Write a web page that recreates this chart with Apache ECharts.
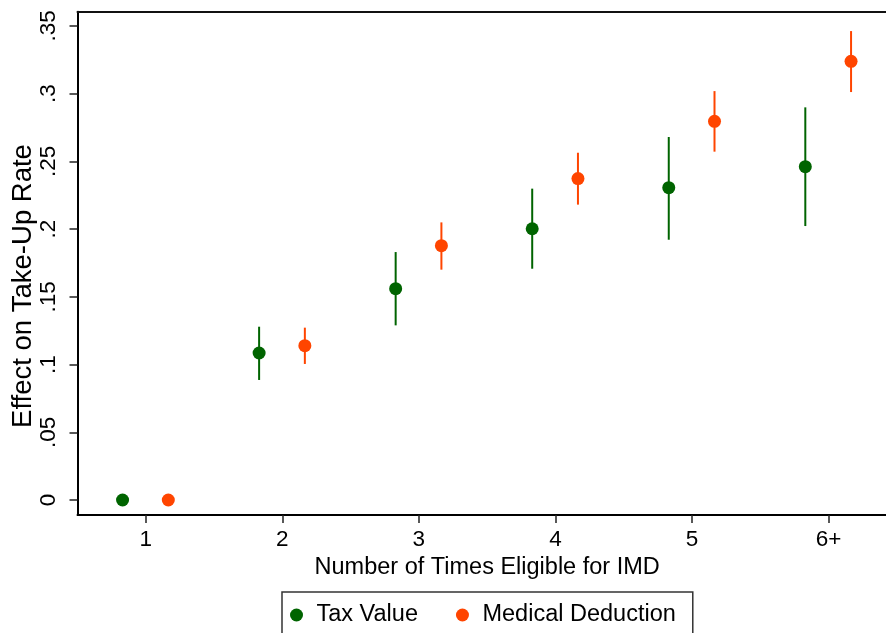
<!DOCTYPE html>
<html><head><meta charset="utf-8">
<script src="https://cdn.jsdelivr.net/npm/echarts@6/dist/echarts.min.js"></script>
<style>html,body{margin:0;padding:0;background:#fff}#c{width:886px;height:633px}</style>
</head><body><div id="c"></div>
<script>
// ---- data ----
const categories = [1, 2, 3, 4, 5, 6];
const tickLabels = ["1", "2", "3", "4", "5", "6+"];
const yTicks = [0, 0.05, 0.1, 0.15, 0.2, 0.25, 0.3, 0.35];
const yTickLabels = ["0", ".05", ".1", ".15", ".2", ".25", ".3", ".35"];
const seriesNames = ["Tax Value", "Medical Deduction"];
const taxValue = [0, 0.1085, 0.1560, 0.2002, 0.2305, 0.2460];
const taxLow   = [null, 0.0886, 0.1289, 0.1707, 0.1921, 0.2022];
const taxHigh  = [null, 0.1279, 0.1830, 0.2298, 0.2679, 0.2898];
const medValue = [0, 0.1139, 0.1877, 0.2372, 0.2795, 0.3238];
const medLow   = [null, 0.1004, 0.1700, 0.2180, 0.2571, 0.3011];
const medHigh  = [null, 0.1272, 0.2049, 0.2563, 0.3018, 0.3461];
const xTitle = "Number of Times Eligible for IMD";
const yTitle = "Effect on Take-Up Rate";

// ---- style ----
const FONT = "'Liberation Sans', Arial, sans-serif";
const FS = 23.5;
const TFS = 22.5;
const YFS = 27.5;
const GREEN = "#006400";
const ORANGE = "#FF4500";
const DODGE = [-0.17, 0.165];

function pts(vals, d) { return categories.map((c, i) => [c + d, vals[i]]); }
function bars(lo, hi, d) {
  const out = [];
  categories.forEach((c, i) => { if (lo[i] != null) out.push([c + d, lo[i], hi[i]]); });
  return out;
}
function errRender(color) {
  return function (params, api) {
    const x = api.value(0), lo = api.value(1), hi = api.value(2);
    const p1 = api.coord([x, lo]), p2 = api.coord([x, hi]);
    return { type: 'line', shape: { x1: p1[0], y1: p1[1], x2: p2[0], y2: p2[1] },
             style: { stroke: color, lineWidth: 2 } };
  };
}

const chart = echarts.init(document.getElementById('c'), null, { renderer: 'canvas' });
chart.setOption({
  backgroundColor: '#fff',
  animation: false,
  textStyle: { fontFamily: FONT },
  grid: { left: 77.5, top: 11.7, width: 819.3, height: 503.3, show: false, containLabel: false, outerBoundsMode: 'none' },
  xAxis: [{
    type: 'value', min: 0.5, max: 6.5,
    axisLine: { show: true, onZero: false, lineStyle: { color: '#000', width: 2 } },
    axisTick: { show: true, length: 8, lineStyle: { color: '#222', width: 1.5 }, customValues: categories },
    axisLabel: { customValues: categories, margin: 13, color: '#000', fontSize: TFS, fontFamily: FONT,
      formatter: v => tickLabels[categories.indexOf(Math.round(v))] },
    splitLine: { show: false },
    name: xTitle, nameLocation: 'middle', nameGap: 37,
    nameTextStyle: { color: '#000', fontSize: FS, fontFamily: FONT }
  }, {
    type: 'value', position: 'top', min: 0.5, max: 6.5,
    axisLine: { show: true, onZero: false, lineStyle: { color: '#111', width: 2 } },
    axisTick: { show: false }, axisLabel: { show: false }, splitLine: { show: false }
  }],
  yAxis: {
    type: 'value', min: -0.01107, max: 0.3604,
    axisLine: { show: true, onZero: false, lineStyle: { color: '#000', width: 2 } },
    axisTick: { show: true, length: 8, lineStyle: { color: '#222', width: 1.5 }, customValues: yTicks },
    axisLabel: { customValues: yTicks, rotate: 90, margin: 17, color: '#000', fontSize: TFS, fontFamily: FONT,
      formatter: v => { const i = yTicks.findIndex(t => Math.abs(t - v) < 1e-6); return i >= 0 ? yTickLabels[i] : ''; } },
    splitLine: { show: false }
  },
  legend: {
    data: seriesNames.map(n => ({ name: n, icon: 'circle' })),
    left: 282, top: 592, orient: 'horizontal',
    itemWidth: 30, itemHeight: 13, itemGap: 38,
    padding: [11, 17, 40, 8],
    borderColor: '#333', borderWidth: 1.5,
    textStyle: { color: '#000', fontSize: FS, fontFamily: FONT }
  },
  graphic: [{
    type: 'text', x: 23, y: 286, rotation: Math.PI / 2,
    style: { text: yTitle, fill: '#000', font: YFS + 'px ' + FONT, align: 'center', verticalAlign: 'middle' }
  }],
  series: [
    { type: 'custom', name: 'taxCI', renderItem: errRender(GREEN), data: bars(taxLow, taxHigh, DODGE[0]), z: 2, silent: true },
    { type: 'custom', name: 'medCI', renderItem: errRender(ORANGE), data: bars(medLow, medHigh, DODGE[1]), z: 2, silent: true },
    { type: 'scatter', name: seriesNames[0], data: pts(taxValue, DODGE[0]), symbol: 'circle', symbolSize: 13, itemStyle: { color: GREEN, opacity: 1 }, z: 3 },
    { type: 'scatter', name: seriesNames[1], data: pts(medValue, DODGE[1]), symbol: 'circle', symbolSize: 13, itemStyle: { color: ORANGE, opacity: 1 }, z: 3 }
  ]
});
</script></body></html>
